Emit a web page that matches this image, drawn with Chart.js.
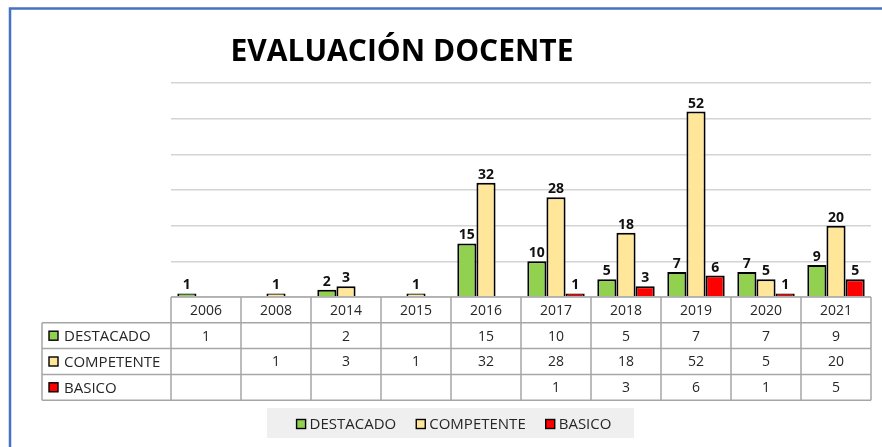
<!DOCTYPE html>
<html>
<head>
<meta charset="utf-8">
<script src="https://cdn.jsdelivr.net/npm/chart.js@4.4.0/dist/chart.umd.min.js"></script>
<style>
  html, body { margin: 0; padding: 0; background: #fff; }
</style>
</head>
<body>
<canvas id="myChart" width="882" height="447"></canvas>
<script>
const years = ["2006", "2008", "2014", "2015", "2016", "2017", "2018", "2019", "2020", "2021"];
const destacado = [1, null, 2, null, 15, 10, 5, 7, 7, 9];
const competente = [null, 1, 3, 1, 32, 28, 18, 52, 5, 20];
const basico = [null, null, null, null, null, 1, 3, 6, 1, 5];
const seriesNames = ["DESTACADO", "COMPETENTE", "BASICO"];
const seriesColors = ["#92D050", "#FFE699", "#FF0000"];
const chartTitle = "EVALUACIÓN DOCENTE";

const FONT = "'Open Sans', sans-serif";

// draws frame, title, value labels, data table and legend
const extras = {
  id: "extras",
  beforeDraw(chart) {
    const ctx = chart.ctx;
    ctx.save();
    ctx.fillStyle = "#fff";
    ctx.fillRect(0, 0, chart.width, chart.height);
    ctx.strokeStyle = "#4472C4";
    ctx.lineWidth = 2.5;
    ctx.strokeRect(10, 8.5, chart.width + 20, chart.height + 20);
    ctx.restore();
  },
  afterDraw(chart) {
    const ctx = chart.ctx;
    const area = chart.chartArea;
    const xs = chart.scales.x;
    ctx.save();

    // title
    ctx.fillStyle = "#000";
    ctx.font = "bold 30px " + FONT;
    ctx.textAlign = "center";
    ctx.textBaseline = "alphabetic";
    ctx.fillText(chartTitle, 402, 61);

    // value labels
    ctx.font = "bold 14px " + FONT;
    ctx.textBaseline = "bottom";
    ctx.fillStyle = "#111";
    chart.data.datasets.forEach((ds, i) => {
      chart.getDatasetMeta(i).data.forEach((bar, j) => {
        const v = ds.data[j];
        if (v === null) return;
        ctx.fillText(String(v), bar.x, bar.y - 1);
      });
    });

    // data table
    const colW = (area.right - area.left) / years.length;
    const rowH = 25.8;
    const top = area.bottom;
    const headLeft = 42;
    ctx.strokeStyle = "#a6a6a6";
    ctx.lineWidth = 1.5;
    ctx.beginPath();
    for (let r = 0; r <= 4; r++) {
      const y = top + r * rowH;
      ctx.moveTo(r === 0 ? area.left : headLeft, y);
      ctx.lineTo(area.right, y);
    }
    for (let i = 0; i <= years.length; i++) {
      const x = area.left + i * colW;
      ctx.moveTo(x, top);
      ctx.lineTo(x, top + 4 * rowH);
    }
    ctx.moveTo(headLeft, top + rowH);
    ctx.lineTo(headLeft, top + 4 * rowH);
    ctx.stroke();

    ctx.font = "14px " + FONT;
    ctx.fillStyle = "#262626";
    ctx.textBaseline = "middle";
    ctx.textAlign = "center";
    years.forEach((y, i) => {
      ctx.fillText(y, xs.getPixelForValue(i), top + rowH / 2 + 1);
    });
    const rows = [destacado, competente, basico];
    rows.forEach((vals, r) => {
      const cy = top + (r + 1.5) * rowH + 1;
      vals.forEach((v, i) => {
        if (v === null) return;
        ctx.fillText(String(v), xs.getPixelForValue(i), cy);
      });
    });
    ctx.textAlign = "left";
    ctx.font = "15px " + FONT;
    seriesNames.forEach((name, r) => {
      const cy = top + (r + 1.5) * rowH;
      ctx.fillStyle = seriesColors[r];
      ctx.fillRect(49, cy - 4.5, 9, 9);
      ctx.strokeStyle = "#000";
      ctx.lineWidth = 1.4;
      ctx.strokeRect(49, cy - 4.5, 9, 9);
      ctx.fillStyle = "#262626";
      ctx.fillText(name, 64, cy + 1);
    });

    // legend
    ctx.fillStyle = "#efefef";
    ctx.fillRect(267, 408, 367, 30);
    ctx.font = "15px " + FONT;
    const gap = 20;
    const widths = seriesNames.map((n) => 13 + ctx.measureText(n).width);
    const total = widths.reduce((a, b) => a + b, 0) + gap * (seriesNames.length - 1);
    let lx = 454 - total / 2;
    const ly = 424;
    seriesNames.forEach((name, r) => {
      ctx.fillStyle = seriesColors[r];
      ctx.fillRect(lx, ly - 4.5, 9, 9);
      ctx.strokeStyle = "#000";
      ctx.lineWidth = 1.4;
      ctx.strokeRect(lx, ly - 4.5, 9, 9);
      ctx.fillStyle = "#262626";
      ctx.fillText(name, lx + 13, ly + 1);
      lx += widths[r] + gap;
    });

    ctx.restore();
  },
};

new Chart(document.getElementById("myChart"), {
  type: "bar",
  data: {
    labels: years,
    datasets: [
      { label: seriesNames[0], data: destacado, backgroundColor: seriesColors[0] },
      { label: seriesNames[1], data: competente, backgroundColor: seriesColors[1] },
      { label: seriesNames[2], data: basico, backgroundColor: seriesColors[2] },
    ].map((d) => ({
      ...d,
      borderColor: "#000",
      borderWidth: 2,
      categoryPercentage: 0.82,
      barPercentage: 1.0,
    })),
  },
  options: {
    responsive: false,
    animation: false,
    devicePixelRatio: 1,
    layout: { padding: { left: 171, right: 11, top: 83, bottom: 150 } },
    plugins: {
      legend: { display: false },
      title: { display: false },
      tooltip: { enabled: false },
    },
    scales: {
      x: { display: false },
      y: {
        min: 0,
        max: 60,
        ticks: { display: false, stepSize: 10 },
        grid: { color: "#d4d4d4", lineWidth: 1.5, drawTicks: false },
        border: { display: false },
      },
    },
  },
  plugins: [extras],
});
</script>
</body>
</html>
